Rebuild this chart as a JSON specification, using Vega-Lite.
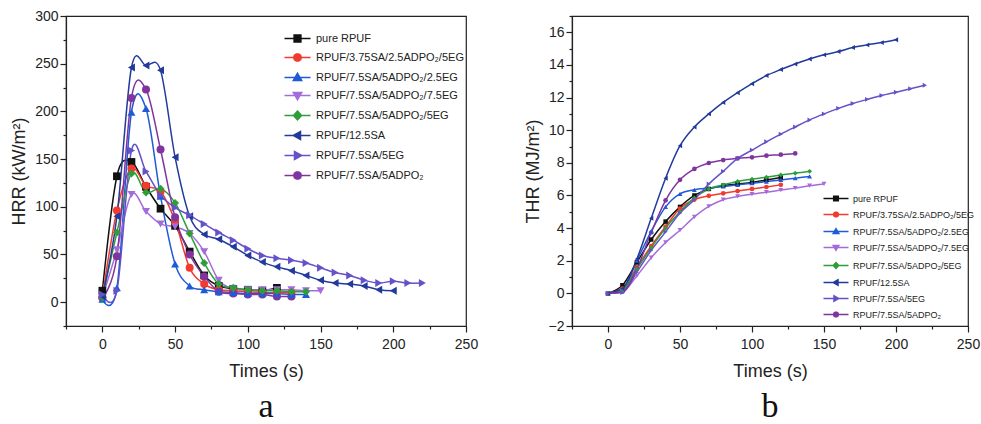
{
  "$schema": "https://vega.github.io/schema/vega-lite/v6.json",
  "padding": {"left": 10, "top": 8, "right": 0, "bottom": 0},
  "datasets": {
    "hrr": [
      {"s": "pure RPUF", "t": 0, "v": 12}, {"s": "pure RPUF", "t": 10, "v": 132}, {"s": "pure RPUF", "t": 20, "v": 147}, {"s": "pure RPUF", "t": 30, "v": 121}, {"s": "pure RPUF", "t": 40, "v": 98}, {"s": "pure RPUF", "t": 50, "v": 80}, {"s": "pure RPUF", "t": 60, "v": 53}, {"s": "pure RPUF", "t": 70, "v": 28}, {"s": "pure RPUF", "t": 80, "v": 17}, {"s": "pure RPUF", "t": 90, "v": 14}, {"s": "pure RPUF", "t": 100, "v": 13}, {"s": "pure RPUF", "t": 110, "v": 12}, {"s": "pure RPUF", "t": 120, "v": 15},
      {"s": "RPUF/3.75SA/2.5ADPO₂/5EG", "t": 0, "v": 5}, {"s": "RPUF/3.75SA/2.5ADPO₂/5EG", "t": 10, "v": 96}, {"s": "RPUF/3.75SA/2.5ADPO₂/5EG", "t": 20, "v": 140}, {"s": "RPUF/3.75SA/2.5ADPO₂/5EG", "t": 30, "v": 122}, {"s": "RPUF/3.75SA/2.5ADPO₂/5EG", "t": 40, "v": 116}, {"s": "RPUF/3.75SA/2.5ADPO₂/5EG", "t": 50, "v": 85}, {"s": "RPUF/3.75SA/2.5ADPO₂/5EG", "t": 60, "v": 36}, {"s": "RPUF/3.75SA/2.5ADPO₂/5EG", "t": 70, "v": 19}, {"s": "RPUF/3.75SA/2.5ADPO₂/5EG", "t": 80, "v": 13}, {"s": "RPUF/3.75SA/2.5ADPO₂/5EG", "t": 90, "v": 12}, {"s": "RPUF/3.75SA/2.5ADPO₂/5EG", "t": 100, "v": 11}, {"s": "RPUF/3.75SA/2.5ADPO₂/5EG", "t": 110, "v": 10}, {"s": "RPUF/3.75SA/2.5ADPO₂/5EG", "t": 120, "v": 10}, {"s": "RPUF/3.75SA/2.5ADPO₂/5EG", "t": 130, "v": 10},
      {"s": "RPUF/7.5SA/5ADPO₂/2.5EG", "t": 0, "v": 3}, {"s": "RPUF/7.5SA/5ADPO₂/2.5EG", "t": 10, "v": 15}, {"s": "RPUF/7.5SA/5ADPO₂/2.5EG", "t": 20, "v": 199}, {"s": "RPUF/7.5SA/5ADPO₂/2.5EG", "t": 30, "v": 203}, {"s": "RPUF/7.5SA/5ADPO₂/2.5EG", "t": 40, "v": 111}, {"s": "RPUF/7.5SA/5ADPO₂/2.5EG", "t": 50, "v": 40}, {"s": "RPUF/7.5SA/5ADPO₂/2.5EG", "t": 60, "v": 17}, {"s": "RPUF/7.5SA/5ADPO₂/2.5EG", "t": 70, "v": 13}, {"s": "RPUF/7.5SA/5ADPO₂/2.5EG", "t": 80, "v": 11}, {"s": "RPUF/7.5SA/5ADPO₂/2.5EG", "t": 90, "v": 10}, {"s": "RPUF/7.5SA/5ADPO₂/2.5EG", "t": 100, "v": 9}, {"s": "RPUF/7.5SA/5ADPO₂/2.5EG", "t": 110, "v": 9}, {"s": "RPUF/7.5SA/5ADPO₂/2.5EG", "t": 120, "v": 9}, {"s": "RPUF/7.5SA/5ADPO₂/2.5EG", "t": 130, "v": 8}, {"s": "RPUF/7.5SA/5ADPO₂/2.5EG", "t": 140, "v": 8},
      {"s": "RPUF/7.5SA/5ADPO₂/7.5EG", "t": 0, "v": 5}, {"s": "RPUF/7.5SA/5ADPO₂/7.5EG", "t": 10, "v": 55}, {"s": "RPUF/7.5SA/5ADPO₂/7.5EG", "t": 20, "v": 113}, {"s": "RPUF/7.5SA/5ADPO₂/7.5EG", "t": 30, "v": 95}, {"s": "RPUF/7.5SA/5ADPO₂/7.5EG", "t": 40, "v": 82}, {"s": "RPUF/7.5SA/5ADPO₂/7.5EG", "t": 50, "v": 79}, {"s": "RPUF/7.5SA/5ADPO₂/7.5EG", "t": 60, "v": 72}, {"s": "RPUF/7.5SA/5ADPO₂/7.5EG", "t": 70, "v": 53}, {"s": "RPUF/7.5SA/5ADPO₂/7.5EG", "t": 80, "v": 23}, {"s": "RPUF/7.5SA/5ADPO₂/7.5EG", "t": 90, "v": 14}, {"s": "RPUF/7.5SA/5ADPO₂/7.5EG", "t": 100, "v": 13}, {"s": "RPUF/7.5SA/5ADPO₂/7.5EG", "t": 110, "v": 13}, {"s": "RPUF/7.5SA/5ADPO₂/7.5EG", "t": 120, "v": 13}, {"s": "RPUF/7.5SA/5ADPO₂/7.5EG", "t": 130, "v": 13}, {"s": "RPUF/7.5SA/5ADPO₂/7.5EG", "t": 140, "v": 12}, {"s": "RPUF/7.5SA/5ADPO₂/7.5EG", "t": 150, "v": 12},
      {"s": "RPUF/7.5SA/5ADPO₂/5EG", "t": 0, "v": 5}, {"s": "RPUF/7.5SA/5ADPO₂/5EG", "t": 10, "v": 73}, {"s": "RPUF/7.5SA/5ADPO₂/5EG", "t": 20, "v": 135}, {"s": "RPUF/7.5SA/5ADPO₂/5EG", "t": 30, "v": 115}, {"s": "RPUF/7.5SA/5ADPO₂/5EG", "t": 40, "v": 119}, {"s": "RPUF/7.5SA/5ADPO₂/5EG", "t": 50, "v": 104}, {"s": "RPUF/7.5SA/5ADPO₂/5EG", "t": 60, "v": 72}, {"s": "RPUF/7.5SA/5ADPO₂/5EG", "t": 70, "v": 41}, {"s": "RPUF/7.5SA/5ADPO₂/5EG", "t": 80, "v": 19}, {"s": "RPUF/7.5SA/5ADPO₂/5EG", "t": 90, "v": 15}, {"s": "RPUF/7.5SA/5ADPO₂/5EG", "t": 100, "v": 13}, {"s": "RPUF/7.5SA/5ADPO₂/5EG", "t": 110, "v": 12}, {"s": "RPUF/7.5SA/5ADPO₂/5EG", "t": 120, "v": 12}, {"s": "RPUF/7.5SA/5ADPO₂/5EG", "t": 130, "v": 11}, {"s": "RPUF/7.5SA/5ADPO₂/5EG", "t": 140, "v": 11},
      {"s": "RPUF/12.5SA", "t": 0, "v": 6}, {"s": "RPUF/12.5SA", "t": 10, "v": 90}, {"s": "RPUF/12.5SA", "t": 20, "v": 246}, {"s": "RPUF/12.5SA", "t": 30, "v": 248}, {"s": "RPUF/12.5SA", "t": 40, "v": 243}, {"s": "RPUF/12.5SA", "t": 50, "v": 152}, {"s": "RPUF/12.5SA", "t": 60, "v": 90}, {"s": "RPUF/12.5SA", "t": 70, "v": 71}, {"s": "RPUF/12.5SA", "t": 80, "v": 66}, {"s": "RPUF/12.5SA", "t": 90, "v": 58}, {"s": "RPUF/12.5SA", "t": 100, "v": 49}, {"s": "RPUF/12.5SA", "t": 110, "v": 42}, {"s": "RPUF/12.5SA", "t": 120, "v": 37}, {"s": "RPUF/12.5SA", "t": 130, "v": 33}, {"s": "RPUF/12.5SA", "t": 140, "v": 28}, {"s": "RPUF/12.5SA", "t": 150, "v": 23}, {"s": "RPUF/12.5SA", "t": 160, "v": 20}, {"s": "RPUF/12.5SA", "t": 170, "v": 19}, {"s": "RPUF/12.5SA", "t": 180, "v": 17}, {"s": "RPUF/12.5SA", "t": 190, "v": 13}, {"s": "RPUF/12.5SA", "t": 200, "v": 12},
      {"s": "RPUF/7.5SA/5EG", "t": 0, "v": 8}, {"s": "RPUF/7.5SA/5EG", "t": 10, "v": 12}, {"s": "RPUF/7.5SA/5EG", "t": 20, "v": 159}, {"s": "RPUF/7.5SA/5EG", "t": 30, "v": 137}, {"s": "RPUF/7.5SA/5EG", "t": 40, "v": 112}, {"s": "RPUF/7.5SA/5EG", "t": 50, "v": 99}, {"s": "RPUF/7.5SA/5EG", "t": 60, "v": 91}, {"s": "RPUF/7.5SA/5EG", "t": 70, "v": 82}, {"s": "RPUF/7.5SA/5EG", "t": 80, "v": 73}, {"s": "RPUF/7.5SA/5EG", "t": 90, "v": 65}, {"s": "RPUF/7.5SA/5EG", "t": 100, "v": 56}, {"s": "RPUF/7.5SA/5EG", "t": 110, "v": 49}, {"s": "RPUF/7.5SA/5EG", "t": 120, "v": 46}, {"s": "RPUF/7.5SA/5EG", "t": 130, "v": 44}, {"s": "RPUF/7.5SA/5EG", "t": 140, "v": 41}, {"s": "RPUF/7.5SA/5EG", "t": 150, "v": 36}, {"s": "RPUF/7.5SA/5EG", "t": 160, "v": 31}, {"s": "RPUF/7.5SA/5EG", "t": 170, "v": 28}, {"s": "RPUF/7.5SA/5EG", "t": 180, "v": 23}, {"s": "RPUF/7.5SA/5EG", "t": 190, "v": 20}, {"s": "RPUF/7.5SA/5EG", "t": 200, "v": 22}, {"s": "RPUF/7.5SA/5EG", "t": 210, "v": 20}, {"s": "RPUF/7.5SA/5EG", "t": 220, "v": 20},
      {"s": "RPUF/7.5SA/5ADPO₂", "t": 0, "v": 5}, {"s": "RPUF/7.5SA/5ADPO₂", "t": 10, "v": 48}, {"s": "RPUF/7.5SA/5ADPO₂", "t": 20, "v": 214}, {"s": "RPUF/7.5SA/5ADPO₂", "t": 30, "v": 223}, {"s": "RPUF/7.5SA/5ADPO₂", "t": 40, "v": 160}, {"s": "RPUF/7.5SA/5ADPO₂", "t": 50, "v": 89}, {"s": "RPUF/7.5SA/5ADPO₂", "t": 60, "v": 50}, {"s": "RPUF/7.5SA/5ADPO₂", "t": 70, "v": 27}, {"s": "RPUF/7.5SA/5ADPO₂", "t": 80, "v": 11}, {"s": "RPUF/7.5SA/5ADPO₂", "t": 90, "v": 9}, {"s": "RPUF/7.5SA/5ADPO₂", "t": 100, "v": 8}, {"s": "RPUF/7.5SA/5ADPO₂", "t": 110, "v": 8}, {"s": "RPUF/7.5SA/5ADPO₂", "t": 120, "v": 6}, {"s": "RPUF/7.5SA/5ADPO₂", "t": 130, "v": 6}
    ],
    "thr": [
      {"s": "pure RPUF", "t": 0, "v": 0}, {"s": "pure RPUF", "t": 10, "v": 0.5}, {"s": "pure RPUF", "t": 20, "v": 1.9}, {"s": "pure RPUF", "t": 30, "v": 3.3}, {"s": "pure RPUF", "t": 40, "v": 4.4}, {"s": "pure RPUF", "t": 50, "v": 5.3}, {"s": "pure RPUF", "t": 60, "v": 6.0}, {"s": "pure RPUF", "t": 70, "v": 6.4}, {"s": "pure RPUF", "t": 80, "v": 6.6}, {"s": "pure RPUF", "t": 90, "v": 6.7}, {"s": "pure RPUF", "t": 100, "v": 6.8}, {"s": "pure RPUF", "t": 110, "v": 6.95}, {"s": "pure RPUF", "t": 120, "v": 7.1},
      {"s": "RPUF/3.75SA/2.5ADPO₂/5EG", "t": 0, "v": 0}, {"s": "RPUF/3.75SA/2.5ADPO₂/5EG", "t": 10, "v": 0.3}, {"s": "RPUF/3.75SA/2.5ADPO₂/5EG", "t": 20, "v": 1.6}, {"s": "RPUF/3.75SA/2.5ADPO₂/5EG", "t": 30, "v": 2.9}, {"s": "RPUF/3.75SA/2.5ADPO₂/5EG", "t": 40, "v": 4.1}, {"s": "RPUF/3.75SA/2.5ADPO₂/5EG", "t": 50, "v": 5.2}, {"s": "RPUF/3.75SA/2.5ADPO₂/5EG", "t": 60, "v": 5.75}, {"s": "RPUF/3.75SA/2.5ADPO₂/5EG", "t": 70, "v": 5.98}, {"s": "RPUF/3.75SA/2.5ADPO₂/5EG", "t": 80, "v": 6.13}, {"s": "RPUF/3.75SA/2.5ADPO₂/5EG", "t": 90, "v": 6.27}, {"s": "RPUF/3.75SA/2.5ADPO₂/5EG", "t": 100, "v": 6.4}, {"s": "RPUF/3.75SA/2.5ADPO₂/5EG", "t": 110, "v": 6.52}, {"s": "RPUF/3.75SA/2.5ADPO₂/5EG", "t": 120, "v": 6.65},
      {"s": "RPUF/7.5SA/5ADPO₂/2.5EG", "t": 0, "v": 0}, {"s": "RPUF/7.5SA/5ADPO₂/2.5EG", "t": 10, "v": 0.2}, {"s": "RPUF/7.5SA/5ADPO₂/2.5EG", "t": 20, "v": 2.0}, {"s": "RPUF/7.5SA/5ADPO₂/2.5EG", "t": 30, "v": 3.8}, {"s": "RPUF/7.5SA/5ADPO₂/2.5EG", "t": 40, "v": 5.3}, {"s": "RPUF/7.5SA/5ADPO₂/2.5EG", "t": 50, "v": 6.1}, {"s": "RPUF/7.5SA/5ADPO₂/2.5EG", "t": 60, "v": 6.35}, {"s": "RPUF/7.5SA/5ADPO₂/2.5EG", "t": 70, "v": 6.45}, {"s": "RPUF/7.5SA/5ADPO₂/2.5EG", "t": 80, "v": 6.55}, {"s": "RPUF/7.5SA/5ADPO₂/2.5EG", "t": 90, "v": 6.65}, {"s": "RPUF/7.5SA/5ADPO₂/2.5EG", "t": 100, "v": 6.75}, {"s": "RPUF/7.5SA/5ADPO₂/2.5EG", "t": 110, "v": 6.85}, {"s": "RPUF/7.5SA/5ADPO₂/2.5EG", "t": 120, "v": 6.95}, {"s": "RPUF/7.5SA/5ADPO₂/2.5EG", "t": 130, "v": 7.06}, {"s": "RPUF/7.5SA/5ADPO₂/2.5EG", "t": 140, "v": 7.17},
      {"s": "RPUF/7.5SA/5ADPO₂/7.5EG", "t": 0, "v": 0}, {"s": "RPUF/7.5SA/5ADPO₂/7.5EG", "t": 10, "v": 0.1}, {"s": "RPUF/7.5SA/5ADPO₂/7.5EG", "t": 20, "v": 1.07}, {"s": "RPUF/7.5SA/5ADPO₂/7.5EG", "t": 30, "v": 2.19}, {"s": "RPUF/7.5SA/5ADPO₂/7.5EG", "t": 40, "v": 3.12}, {"s": "RPUF/7.5SA/5ADPO₂/7.5EG", "t": 50, "v": 3.87}, {"s": "RPUF/7.5SA/5ADPO₂/7.5EG", "t": 60, "v": 4.69}, {"s": "RPUF/7.5SA/5ADPO₂/7.5EG", "t": 70, "v": 5.33}, {"s": "RPUF/7.5SA/5ADPO₂/7.5EG", "t": 80, "v": 5.74}, {"s": "RPUF/7.5SA/5ADPO₂/7.5EG", "t": 90, "v": 5.94}, {"s": "RPUF/7.5SA/5ADPO₂/7.5EG", "t": 100, "v": 6.08}, {"s": "RPUF/7.5SA/5ADPO₂/7.5EG", "t": 110, "v": 6.2}, {"s": "RPUF/7.5SA/5ADPO₂/7.5EG", "t": 120, "v": 6.33}, {"s": "RPUF/7.5SA/5ADPO₂/7.5EG", "t": 130, "v": 6.45}, {"s": "RPUF/7.5SA/5ADPO₂/7.5EG", "t": 140, "v": 6.6}, {"s": "RPUF/7.5SA/5ADPO₂/7.5EG", "t": 150, "v": 6.71},
      {"s": "RPUF/7.5SA/5ADPO₂/5EG", "t": 0, "v": 0}, {"s": "RPUF/7.5SA/5ADPO₂/5EG", "t": 10, "v": 0.2}, {"s": "RPUF/7.5SA/5ADPO₂/5EG", "t": 20, "v": 1.5}, {"s": "RPUF/7.5SA/5ADPO₂/5EG", "t": 30, "v": 2.8}, {"s": "RPUF/7.5SA/5ADPO₂/5EG", "t": 40, "v": 4.0}, {"s": "RPUF/7.5SA/5ADPO₂/5EG", "t": 50, "v": 5.0}, {"s": "RPUF/7.5SA/5ADPO₂/5EG", "t": 60, "v": 5.85}, {"s": "RPUF/7.5SA/5ADPO₂/5EG", "t": 70, "v": 6.4}, {"s": "RPUF/7.5SA/5ADPO₂/5EG", "t": 80, "v": 6.65}, {"s": "RPUF/7.5SA/5ADPO₂/5EG", "t": 90, "v": 6.86}, {"s": "RPUF/7.5SA/5ADPO₂/5EG", "t": 100, "v": 7.0}, {"s": "RPUF/7.5SA/5ADPO₂/5EG", "t": 110, "v": 7.12}, {"s": "RPUF/7.5SA/5ADPO₂/5EG", "t": 120, "v": 7.26}, {"s": "RPUF/7.5SA/5ADPO₂/5EG", "t": 130, "v": 7.36}, {"s": "RPUF/7.5SA/5ADPO₂/5EG", "t": 140, "v": 7.48},
      {"s": "RPUF/12.5SA", "t": 0, "v": 0}, {"s": "RPUF/12.5SA", "t": 10, "v": 0.3}, {"s": "RPUF/12.5SA", "t": 20, "v": 2.1}, {"s": "RPUF/12.5SA", "t": 30, "v": 4.6}, {"s": "RPUF/12.5SA", "t": 40, "v": 7.06}, {"s": "RPUF/12.5SA", "t": 50, "v": 9.05}, {"s": "RPUF/12.5SA", "t": 60, "v": 10.2}, {"s": "RPUF/12.5SA", "t": 70, "v": 11.0}, {"s": "RPUF/12.5SA", "t": 80, "v": 11.7}, {"s": "RPUF/12.5SA", "t": 90, "v": 12.3}, {"s": "RPUF/12.5SA", "t": 100, "v": 12.85}, {"s": "RPUF/12.5SA", "t": 110, "v": 13.35}, {"s": "RPUF/12.5SA", "t": 120, "v": 13.72}, {"s": "RPUF/12.5SA", "t": 130, "v": 14.06}, {"s": "RPUF/12.5SA", "t": 140, "v": 14.36}, {"s": "RPUF/12.5SA", "t": 150, "v": 14.62}, {"s": "RPUF/12.5SA", "t": 160, "v": 14.82}, {"s": "RPUF/12.5SA", "t": 170, "v": 15.07}, {"s": "RPUF/12.5SA", "t": 180, "v": 15.23}, {"s": "RPUF/12.5SA", "t": 190, "v": 15.37}, {"s": "RPUF/12.5SA", "t": 200, "v": 15.54},
      {"s": "RPUF/7.5SA/5EG", "t": 0, "v": 0}, {"s": "RPUF/7.5SA/5EG", "t": 10, "v": 0.05}, {"s": "RPUF/7.5SA/5EG", "t": 20, "v": 1.3}, {"s": "RPUF/7.5SA/5EG", "t": 30, "v": 2.64}, {"s": "RPUF/7.5SA/5EG", "t": 40, "v": 3.77}, {"s": "RPUF/7.5SA/5EG", "t": 50, "v": 4.93}, {"s": "RPUF/7.5SA/5EG", "t": 60, "v": 5.74}, {"s": "RPUF/7.5SA/5EG", "t": 70, "v": 6.7}, {"s": "RPUF/7.5SA/5EG", "t": 80, "v": 7.48}, {"s": "RPUF/7.5SA/5EG", "t": 90, "v": 8.27}, {"s": "RPUF/7.5SA/5EG", "t": 100, "v": 8.78}, {"s": "RPUF/7.5SA/5EG", "t": 110, "v": 9.29}, {"s": "RPUF/7.5SA/5EG", "t": 120, "v": 9.76}, {"s": "RPUF/7.5SA/5EG", "t": 130, "v": 10.2}, {"s": "RPUF/7.5SA/5EG", "t": 140, "v": 10.63}, {"s": "RPUF/7.5SA/5EG", "t": 150, "v": 11.0}, {"s": "RPUF/7.5SA/5EG", "t": 160, "v": 11.34}, {"s": "RPUF/7.5SA/5EG", "t": 170, "v": 11.64}, {"s": "RPUF/7.5SA/5EG", "t": 180, "v": 11.89}, {"s": "RPUF/7.5SA/5EG", "t": 190, "v": 12.13}, {"s": "RPUF/7.5SA/5EG", "t": 200, "v": 12.33}, {"s": "RPUF/7.5SA/5EG", "t": 210, "v": 12.54}, {"s": "RPUF/7.5SA/5EG", "t": 220, "v": 12.76},
      {"s": "RPUF/7.5SA/5ADPO₂", "t": 0, "v": 0}, {"s": "RPUF/7.5SA/5ADPO₂", "t": 10, "v": 0.1}, {"s": "RPUF/7.5SA/5ADPO₂", "t": 20, "v": 1.5}, {"s": "RPUF/7.5SA/5ADPO₂", "t": 30, "v": 3.73}, {"s": "RPUF/7.5SA/5ADPO₂", "t": 40, "v": 5.7}, {"s": "RPUF/7.5SA/5ADPO₂", "t": 50, "v": 6.96}, {"s": "RPUF/7.5SA/5ADPO₂", "t": 60, "v": 7.63}, {"s": "RPUF/7.5SA/5ADPO₂", "t": 70, "v": 7.99}, {"s": "RPUF/7.5SA/5ADPO₂", "t": 80, "v": 8.17}, {"s": "RPUF/7.5SA/5ADPO₂", "t": 90, "v": 8.27}, {"s": "RPUF/7.5SA/5ADPO₂", "t": 100, "v": 8.34}, {"s": "RPUF/7.5SA/5ADPO₂", "t": 110, "v": 8.44}, {"s": "RPUF/7.5SA/5ADPO₂", "t": 120, "v": 8.5}, {"s": "RPUF/7.5SA/5ADPO₂", "t": 130, "v": 8.58}
    ]
  },
  "config": {
    "font": "Liberation Sans",
    "view": {"stroke": "#222222", "strokeWidth": 1.2},
    "axis": {"grid": false, "domainColor": "#222222", "domainWidth": 1.2, "tickColor": "#222222", "tickWidth": 1.2, "labelColor": "#222222", "titleColor": "#222222", "labelFontSize": 14, "titleFontSize": 18, "titleFontWeight": "normal", "labelFlush": false, "labelOverlap": false, "tickSize": 6},
    "axisX": {"labelPadding": 5, "titlePadding": 11},
    "axisY": {"labelPadding": 2, "titlePadding": 6},
    "title": {"font": "Liberation Serif", "fontSize": 34, "fontWeight": "normal", "color": "#111111"}
  },
  "bounds": "flush",
  "spacing": 106,
  "resolve": {"scale": {"shape": "independent"}, "legend": {"color": "independent", "stroke": "independent", "shape": "independent"}},
  "hconcat": [
    {
      "width": 400,
      "height": 310,
      "title": {"text": "a", "orient": "bottom", "offset": 10},
      "data": {"name": "hrr"},
      "resolve": {"axis": {"x": "independent", "y": "independent"}},
      "layer": [
        {
          "transform": [{"filter": "datum.t < -1000"}],
          "mark": {"type": "point", "filled": true, "opacity": 1},
          "encoding": {
            "x": {"field": "t", "type": "quantitative", "scale": {"domain": [-25, 250], "nice": false, "zero": false},
              "axis": {"orient": "bottom", "values": [-25, 25, 75, 125, 175, 225], "labels": false, "domain": false, "tickSize": 3, "title": null}},
            "y": {"field": "v", "type": "quantitative", "scale": {"domain": [-25, 300], "nice": false, "zero": false},
              "axis": {"orient": "left", "values": [-25, 25, 75, 125, 175, 225, 275], "labels": false, "domain": false, "tickSize": 3, "title": null}},
            "color": {"field": "s", "type": "nominal",
              "scale": {"domain": ["pure RPUF", "RPUF/3.75SA/2.5ADPO₂/5EG", "RPUF/7.5SA/5ADPO₂/2.5EG", "RPUF/7.5SA/5ADPO₂/7.5EG", "RPUF/7.5SA/5ADPO₂/5EG", "RPUF/12.5SA", "RPUF/7.5SA/5EG", "RPUF/7.5SA/5ADPO₂"], "range": ["#111111", "#F23A2E", "#1F5BD6", "#A46BDB", "#2E9E3A", "#223A9C", "#6452C8", "#80359E"]},
              "legend": {"title": null, "orient": "none", "legendX": 239, "legendY": 17, "padding": 0, "labelFontSize": 11, "labelColor": "#222222", "symbolSize": 64, "rowPadding": 5, "labelOffset": 0, "symbolStrokeWidth": 1.5, "symbolOpacity": 1}},
            "stroke": {"field": "s", "type": "nominal",
              "scale": {"domain": ["pure RPUF", "RPUF/3.75SA/2.5ADPO₂/5EG", "RPUF/7.5SA/5ADPO₂/2.5EG", "RPUF/7.5SA/5ADPO₂/7.5EG", "RPUF/7.5SA/5ADPO₂/5EG", "RPUF/12.5SA", "RPUF/7.5SA/5EG", "RPUF/7.5SA/5ADPO₂"], "range": ["#111111", "#F23A2E", "#1F5BD6", "#A46BDB", "#2E9E3A", "#223A9C", "#6452C8", "#80359E"]},
              "legend": {"title": null, "orient": "none", "legendX": 239, "legendY": 17, "padding": 0, "labelFontSize": 11, "labelColor": "#222222", "symbolSize": 64, "rowPadding": 5, "labelOffset": 0, "symbolStrokeWidth": 1.5, "symbolOpacity": 1}},
            "shape": {"field": "s", "type": "nominal",
              "scale": {"domain": ["pure RPUF", "RPUF/3.75SA/2.5ADPO₂/5EG", "RPUF/7.5SA/5ADPO₂/2.5EG", "RPUF/7.5SA/5ADPO₂/7.5EG", "RPUF/7.5SA/5ADPO₂/5EG", "RPUF/12.5SA", "RPUF/7.5SA/5EG", "RPUF/7.5SA/5ADPO₂"], "range": [
                "M-6.5,0H0M-4.1,-0.85H-2.4V0.85H-4.1Z",
                "M-6.5,0H0M-2.3,0L-2.48,0.56L-2.96,0.9L-3.54,0.9L-4.02,0.56L-4.2,0L-4.02,-0.56L-3.54,-0.9L-2.96,-0.9L-2.48,-0.56Z",
                "M-6.5,0H0M-3.25,-1.05L-2.2,0.75H-4.3Z",
                "M-6.5,0H0M-3.25,1.05L-2.2,-0.75H-4.3Z",
                "M-6.5,0H0M-3.25,-1.1L-2.25,0L-3.25,1.1L-4.25,0Z",
                "M-6.5,0H0M-4.3,0L-2.5,-1V1Z",
                "M-6.5,0H0M-2.2,0L-4,-1V1Z",
                "M-6.5,0H0M-2.3,0L-2.48,0.56L-2.96,0.9L-3.54,0.9L-4.02,0.56L-4.2,0L-4.02,-0.56L-3.54,-0.9L-2.96,-0.9L-2.48,-0.56Z"]},
              "legend": {"title": null, "orient": "none", "legendX": 239, "legendY": 17, "padding": 0, "labelFontSize": 11, "labelColor": "#222222", "symbolSize": 64, "rowPadding": 5, "labelOffset": 0, "symbolStrokeWidth": 1.5, "symbolOpacity": 1}}
          }
        },
        {
          "mark": {"type": "line", "interpolate": "cardinal", "strokeWidth": 1.5},
          "encoding": {
            "x": {"field": "t", "type": "quantitative", "axis": {"orient": "bottom", "title": "Times (s)", "values": [0, 50, 100, 150, 200, 250]}},
            "y": {"field": "v", "type": "quantitative", "axis": {"orient": "left", "title": "HRR (kW/m²)", "values": [0, 50, 100, 150, 200, 250, 300]}},
            "stroke": {"field": "s", "type": "nominal", "legend": null}
          }
        },
        {"transform": [{"filter": {"field": "s", "oneOf": ["pure RPUF"]}}], "mark": {"type": "point", "shape": "square", "filled": true, "size": 60, "opacity": 1},
          "encoding": {"x": {"field": "t", "type": "quantitative", "axis": null}, "y": {"field": "v", "type": "quantitative", "axis": null}, "color": {"field": "s", "type": "nominal", "legend": null}}},
        {"transform": [{"filter": {"field": "s", "oneOf": ["RPUF/3.75SA/2.5ADPO₂/5EG", "RPUF/7.5SA/5ADPO₂"]}}], "mark": {"type": "point", "shape": "circle", "filled": true, "size": 64, "opacity": 1},
          "encoding": {"x": {"field": "t", "type": "quantitative", "axis": null}, "y": {"field": "v", "type": "quantitative", "axis": null}, "color": {"field": "s", "type": "nominal", "legend": null}}},
        {"transform": [{"filter": {"field": "s", "oneOf": ["RPUF/7.5SA/5ADPO₂/2.5EG"]}}], "mark": {"type": "point", "shape": "triangle-up", "filled": true, "size": 64, "opacity": 1},
          "encoding": {"x": {"field": "t", "type": "quantitative", "axis": null}, "y": {"field": "v", "type": "quantitative", "axis": null}, "color": {"field": "s", "type": "nominal", "legend": null}}},
        {"transform": [{"filter": {"field": "s", "oneOf": ["RPUF/7.5SA/5ADPO₂/7.5EG"]}}], "mark": {"type": "point", "shape": "triangle-down", "filled": true, "size": 64, "opacity": 1},
          "encoding": {"x": {"field": "t", "type": "quantitative", "axis": null}, "y": {"field": "v", "type": "quantitative", "axis": null}, "color": {"field": "s", "type": "nominal", "legend": null}}},
        {"transform": [{"filter": {"field": "s", "oneOf": ["RPUF/7.5SA/5ADPO₂/5EG"]}}], "mark": {"type": "point", "shape": "diamond", "filled": true, "size": 64, "opacity": 1},
          "encoding": {"x": {"field": "t", "type": "quantitative", "axis": null}, "y": {"field": "v", "type": "quantitative", "axis": null}, "color": {"field": "s", "type": "nominal", "legend": null}}},
        {"transform": [{"filter": {"field": "s", "oneOf": ["RPUF/12.5SA"]}}], "mark": {"type": "point", "shape": "triangle-left", "filled": true, "size": 64, "opacity": 1},
          "encoding": {"x": {"field": "t", "type": "quantitative", "axis": null}, "y": {"field": "v", "type": "quantitative", "axis": null}, "color": {"field": "s", "type": "nominal", "legend": null}}},
        {"transform": [{"filter": {"field": "s", "oneOf": ["RPUF/7.5SA/5EG"]}}], "mark": {"type": "point", "shape": "triangle-right", "filled": true, "size": 64, "opacity": 1},
          "encoding": {"x": {"field": "t", "type": "quantitative", "axis": null}, "y": {"field": "v", "type": "quantitative", "axis": null}, "color": {"field": "s", "type": "nominal", "legend": null}}}
      ]
    },
    {
      "width": 396,
      "height": 310,
      "title": {"text": "b", "orient": "bottom", "offset": 10},
      "data": {"name": "thr"},
      "resolve": {"axis": {"x": "independent", "y": "independent"}},
      "layer": [
        {
          "transform": [{"filter": "datum.t < -1000"}],
          "mark": {"type": "point", "filled": true, "opacity": 1},
          "encoding": {
            "x": {"field": "t", "type": "quantitative", "scale": {"domain": [-25, 250], "nice": false, "zero": false},
              "axis": {"orient": "bottom", "values": [-25, 25, 75, 125, 175, 225], "labels": false, "domain": false, "tickSize": 3, "title": null}},
            "y": {"field": "v", "type": "quantitative", "scale": {"domain": [-2, 17], "nice": false, "zero": false},
              "axis": {"orient": "left", "values": [-1, 1, 3, 5, 7, 9, 11, 13, 15, 17], "labels": false, "domain": false, "tickSize": 3, "title": null}},
            "color": {"field": "s", "type": "nominal",
              "legend": {"title": null, "orient": "none", "legendX": 272, "legendY": 178, "padding": 0, "labelFontSize": 9, "labelColor": "#222222", "symbolSize": 36, "rowPadding": 5, "labelOffset": 0, "symbolStrokeWidth": 1.3, "symbolOpacity": 1}},
            "stroke": {"field": "s", "type": "nominal",
              "legend": {"title": null, "orient": "none", "legendX": 272, "legendY": 178, "padding": 0, "labelFontSize": 9, "labelColor": "#222222", "symbolSize": 36, "rowPadding": 5, "labelOffset": 0, "symbolStrokeWidth": 1.3, "symbolOpacity": 1}},
            "shape": {"field": "s", "type": "nominal",
              "scale": {"domain": ["pure RPUF", "RPUF/3.75SA/2.5ADPO₂/5EG", "RPUF/7.5SA/5ADPO₂/2.5EG", "RPUF/7.5SA/5ADPO₂/7.5EG", "RPUF/7.5SA/5ADPO₂/5EG", "RPUF/12.5SA", "RPUF/7.5SA/5EG", "RPUF/7.5SA/5ADPO₂"], "range": [
                "M-8.33,0H0M-4.97,-0.8H-3.37V0.8H-4.97Z",
                "M-8.33,0H0M-3.32,0L-3.48,0.5L-3.91,0.81L-4.43,0.81L-4.86,0.5L-5.02,0L-4.86,-0.5L-4.43,-0.81L-3.91,-0.81L-3.48,-0.5Z",
                "M-8.33,0H0M-4.17,-1L-3.17,0.7H-5.17Z",
                "M-8.33,0H0M-4.17,1L-3.17,-0.7H-5.17Z",
                "M-8.33,0H0M-4.17,-1.05L-3.22,0L-4.17,1.05L-5.12,0Z",
                "M-8.33,0H0M-5.17,0L-3.47,-0.95V0.95Z",
                "M-8.33,0H0M-3.17,0L-4.87,-0.95V0.95Z",
                "M-8.33,0H0M-3.32,0L-3.48,0.5L-3.91,0.81L-4.43,0.81L-4.86,0.5L-5.02,0L-4.86,-0.5L-4.43,-0.81L-3.91,-0.81L-3.48,-0.5Z"]},
              "legend": {"title": null, "orient": "none", "legendX": 272, "legendY": 178, "padding": 0, "labelFontSize": 9, "labelColor": "#222222", "symbolSize": 36, "rowPadding": 5, "labelOffset": 0, "symbolStrokeWidth": 1.3, "symbolOpacity": 1}}
          }
        },
        {
          "mark": {"type": "line", "interpolate": "monotone", "strokeWidth": 1.5},
          "encoding": {
            "x": {"field": "t", "type": "quantitative", "axis": {"orient": "bottom", "title": "Times (s)", "values": [0, 50, 100, 150, 200, 250]}},
            "y": {"field": "v", "type": "quantitative", "axis": {"orient": "left", "title": "THR (MJ/m²)", "values": [-2, 0, 2, 4, 6, 8, 10, 12, 14, 16]}},
            "stroke": {"field": "s", "type": "nominal", "legend": null}
          }
        },
        {"transform": [{"filter": {"field": "s", "oneOf": ["pure RPUF"]}}], "mark": {"type": "point", "shape": "square", "filled": true, "size": 20, "opacity": 1},
          "encoding": {"x": {"field": "t", "type": "quantitative", "axis": null}, "y": {"field": "v", "type": "quantitative", "axis": null}, "color": {"field": "s", "type": "nominal", "legend": null}}},
        {"transform": [{"filter": {"field": "s", "oneOf": ["RPUF/3.75SA/2.5ADPO₂/5EG", "RPUF/7.5SA/5ADPO₂"]}}], "mark": {"type": "point", "shape": "circle", "filled": true, "size": 22, "opacity": 1},
          "encoding": {"x": {"field": "t", "type": "quantitative", "axis": null}, "y": {"field": "v", "type": "quantitative", "axis": null}, "color": {"field": "s", "type": "nominal", "legend": null}}},
        {"transform": [{"filter": {"field": "s", "oneOf": ["RPUF/7.5SA/5ADPO₂/2.5EG"]}}], "mark": {"type": "point", "shape": "triangle-up", "filled": true, "size": 24, "opacity": 1},
          "encoding": {"x": {"field": "t", "type": "quantitative", "axis": null}, "y": {"field": "v", "type": "quantitative", "axis": null}, "color": {"field": "s", "type": "nominal", "legend": null}}},
        {"transform": [{"filter": {"field": "s", "oneOf": ["RPUF/7.5SA/5ADPO₂/7.5EG"]}}], "mark": {"type": "point", "shape": "triangle-down", "filled": true, "size": 24, "opacity": 1},
          "encoding": {"x": {"field": "t", "type": "quantitative", "axis": null}, "y": {"field": "v", "type": "quantitative", "axis": null}, "color": {"field": "s", "type": "nominal", "legend": null}}},
        {"transform": [{"filter": {"field": "s", "oneOf": ["RPUF/7.5SA/5ADPO₂/5EG"]}}], "mark": {"type": "point", "shape": "diamond", "filled": true, "size": 24, "opacity": 1},
          "encoding": {"x": {"field": "t", "type": "quantitative", "axis": null}, "y": {"field": "v", "type": "quantitative", "axis": null}, "color": {"field": "s", "type": "nominal", "legend": null}}},
        {"transform": [{"filter": {"field": "s", "oneOf": ["RPUF/12.5SA"]}}], "mark": {"type": "point", "shape": "triangle-left", "filled": true, "size": 24, "opacity": 1},
          "encoding": {"x": {"field": "t", "type": "quantitative", "axis": null}, "y": {"field": "v", "type": "quantitative", "axis": null}, "color": {"field": "s", "type": "nominal", "legend": null}}},
        {"transform": [{"filter": {"field": "s", "oneOf": ["RPUF/7.5SA/5EG"]}}], "mark": {"type": "point", "shape": "triangle-right", "filled": true, "size": 24, "opacity": 1},
          "encoding": {"x": {"field": "t", "type": "quantitative", "axis": null}, "y": {"field": "v", "type": "quantitative", "axis": null}, "color": {"field": "s", "type": "nominal", "legend": null}}}
      ]
    }
  ]
}
